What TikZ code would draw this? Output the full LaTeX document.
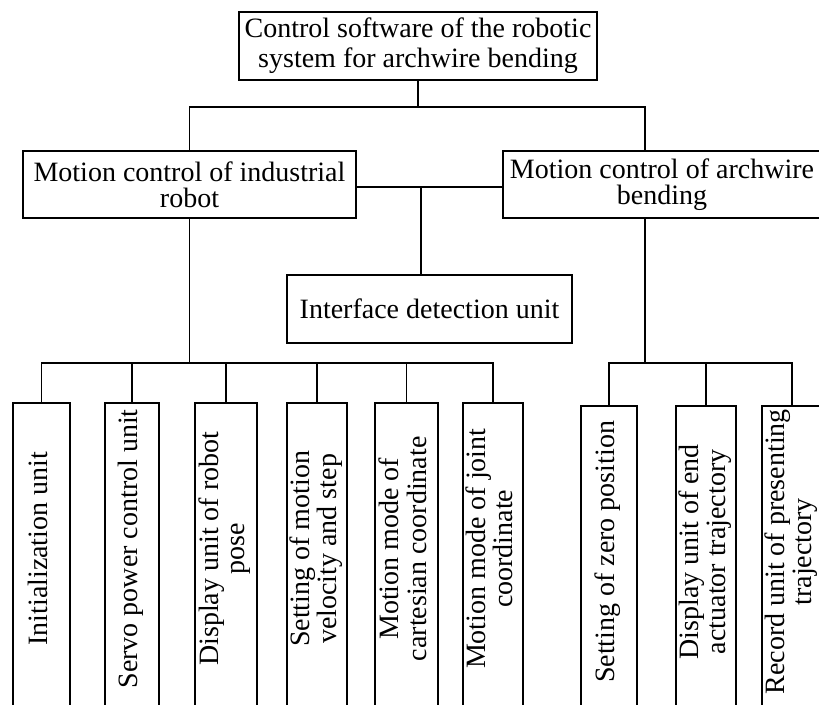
\documentclass[tikz,border=0pt]{standalone}
\usepackage{fontspec}
\setmainfont{Liberation Serif}
\newcommand{\vtext}[1]{\hspace*{26pt}\begin{tabular}{@{}c@{}}#1\end{tabular}}
\begin{document}
\begin{tikzpicture}[x=1pt,y=1pt,
  box/.style={draw, line width=1.6pt, inner sep=0pt, align=center},
  hbox/.style={box, font=\fontsize{28}{26}\selectfont},
  topbox/.style={box, font=\fontsize{28}{30}\selectfont},
  vbox/.style={box, rotate=90, anchor=east, minimum width=318pt, minimum height=#1, font=\fontsize{28}{26}\selectfont},
  link/.style={line width=1.6pt}]
\useasboundingbox (0,0) rectangle (819,-704);
\clip (0,0) rectangle (819,-704);

\node[topbox, minimum width=358pt, minimum height=68pt] (top) at (418,-46) {Control software of the robotic\\system for archwire bending};
\node[hbox, minimum width=333pt, minimum height=67pt] (ind) at (189.5,-184.5) {Motion control of industrial\\robot};
\node[hbox, minimum width=318pt, minimum height=67pt] (arch) at (662,-184.5) {Motion control of archwire\\bending};
\node[hbox, minimum width=285pt, minimum height=68pt] (iface) at (429.5,-309) {Interface detection unit};

\node[vbox=57pt] (c1) at (41.5,-402) {\vtext{Initialization unit}};
\node[vbox=54pt] (c2) at (132,-402) {\vtext{Servo power control unit}};
\node[vbox=62pt] (c3) at (226,-402) {\vtext{Display unit of robot\\pose}};
\node[vbox=60pt] (c4) at (317,-402) {\vtext{Setting of motion\\velocity and step}};
\node[vbox=63pt] (c5) at (406.5,-402) {\vtext{Motion mode of\\cartesian coordinate}};
\node[vbox=60pt] (c6) at (493,-402) {\vtext{Motion mode of joint\\coordinate}};
\node[vbox=56pt] (c7) at (609,-405) {\vtext{Setting of zero position}};
\node[vbox=60pt] (c8) at (706,-405) {\vtext{Display unit of end\\actuator trajectory}};
\node[vbox=60pt] (c9) at (792,-405) {\vtext{Record unit of presenting\\trajectory}};

\coordinate (j1) at (418,-107);
\coordinate (archtop) at (645,-151);
\coordinate (archbot) at (645,-218);
\coordinate (jm) at (421,-187);
\coordinate (busL) at (189.5,-363);
\coordinate (busR) at (645,-363);

\draw[link] (top.south) -- (j1);
\draw[link] (ind.north) |- (j1) -| (archtop);
\draw[link] (ind.east |- jm) -- (arch.west |- jm);
\draw[link] (jm) -- (jm |- iface.north);
\draw[link] (ind.south) -- (busL);
\draw[link] (archbot) -- (busR);
\foreach \c in {c1,c2,c3,c4,c5,c6} \draw[link] (\c.east) |- (busL);
\foreach \c in {c7,c8,c9} \draw[link] (\c.east) |- (busR);
\end{tikzpicture}
\end{document}
